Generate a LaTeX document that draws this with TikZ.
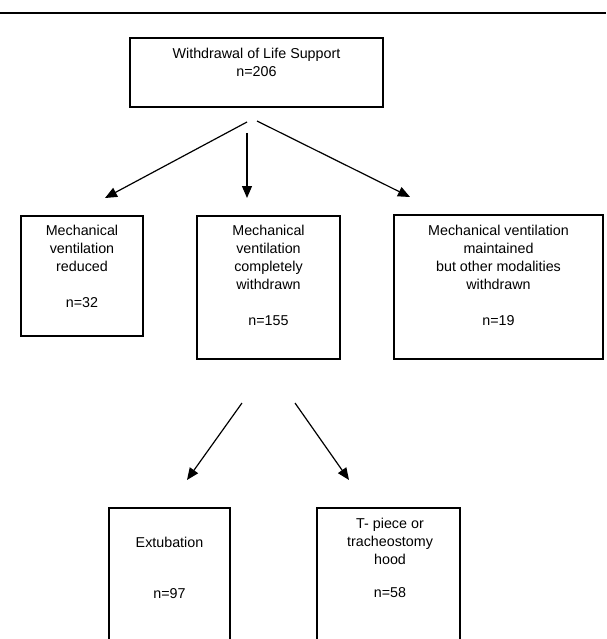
\documentclass[tikz,border=0pt]{standalone}
\usepackage{fontspec}
\setmainfont{Liberation Sans}
\usetikzlibrary{arrows.meta}
\begin{document}
\begin{tikzpicture}[x=1pt,y=-1pt,
  box/.style={draw=black, line width=1.2pt, inner sep=0pt, outer sep=0pt},
  txt/.style={inner sep=0pt, outer sep=0pt, align=center, font=\fontsize{14.3}{18}\selectfont},
  conn/.style={line width=1.2pt, -{Triangle[length=12pt,width=10pt]}}]
\useasboundingbox (0,0) rectangle (606,639);
\clip (0,0) rectangle (606,639);
\fill[white] (0,0) rectangle (606,639);
% top rule
\draw[line width=1.6pt] (0,13) -- (606,13);
% boxes
\node[box, minimum width=253pt, minimum height=69pt] (top) at (256.5,72.5) {};
\node[box, minimum width=122pt, minimum height=120pt] (left) at (82,276) {};
\node[box, minimum width=143pt, minimum height=143pt] (mid) at (268.5,287.5) {};
\node[box, minimum width=209pt, minimum height=144pt] (right) at (498.5,287) {};
\node[box, minimum width=121pt, minimum height=142pt] (ext) at (169.5,579) {};
\node[box, minimum width=143pt, minimum height=142pt] (tp) at (388.5,579) {};
% texts
\node[txt, anchor=north] (topT) at (256.5,47.9) {Withdrawal of Life Support\\n=206};
\node[txt, anchor=north] (leftT) at (82,224.9) {Mechanical\\ventilation\\reduced\\[18pt]n=32};
\node[txt, anchor=north] (midT) at (268.5,224.9) {Mechanical\\ventilation\\completely\\withdrawn\\[18pt]n=155};
\node[txt, anchor=north] (rightT) at (498.5,224.9) {Mechanical ventilation\\maintained\\but other modalities\\withdrawn\\[18pt]n=19};
\node[txt, anchor=north] (extT) at (169.5,536.9) {Extubation\\[33pt]n=97};
\node[txt, anchor=north] (tpT) at (390,517.9) {T- piece or\\tracheostomy\\hood\\[15pt]n=58};
% connector ends
\coordinate (s1) at (247,122); \coordinate (e1) at (105,198);
\coordinate (s2) at (247,133); \coordinate (e2) at (247,198);
\coordinate (s3) at (257,121); \coordinate (e3) at (410,197);
\coordinate (s4) at (242,403); \coordinate (e4) at (187,480);
\coordinate (s5) at (295,403); \coordinate (e5) at (349,480);
\draw[conn] (s1) -- (e1);
\draw[conn] (s2) -- (e2);
\draw[conn] (s3) -- (e3);
\draw[conn] (s4) -- (e4);
\draw[conn] (s5) -- (e5);
\end{tikzpicture}
\end{document}
